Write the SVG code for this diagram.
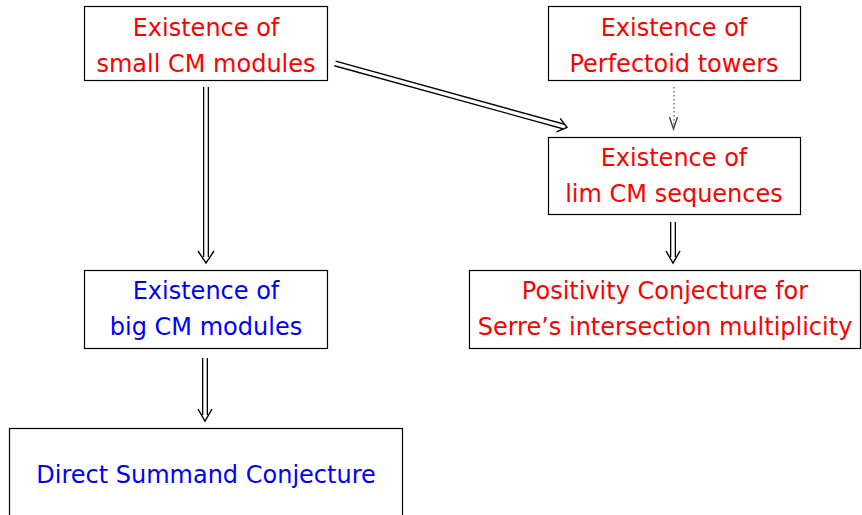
<svg xmlns="http://www.w3.org/2000/svg" width="862" height="515" viewBox="0 0 862 515">
<style>
.box{fill:#fff;stroke:#000;stroke-width:1.2}
.t{font-family:"DejaVu Sans","Liberation Sans",sans-serif;font-size:24px;text-anchor:middle}
.red{fill:#ff0000}
.blue{fill:#0000ff}
.outer{stroke:#000;stroke-width:6;fill:none}
.inner{stroke:#fff;stroke-width:3.4;fill:none}
.head{stroke:#000;stroke-width:1.4;fill:none;stroke-linejoin:miter}
.dot{stroke:#555;stroke-width:1.2;stroke-dasharray:1.5 2.5;fill:none}
</style>
<rect width="862" height="515" fill="#fff"/>
<g id="connectors">
  <g id="c1">
    <line class="outer" x1="206" y1="87" x2="206" y2="257"/>
    <line class="inner" x1="206" y1="86" x2="206" y2="259"/>
    <path class="head" d="M198,251 L206,263 L214,251"/>
  </g>
  <g id="c2">
    <line class="outer" x1="335" y1="63.5" x2="563.6" y2="126.5"/>
    <line class="inner" x1="334" y1="63.2" x2="565" y2="126.9"/>
    <path class="head" d="M556.4,131.8 L567,127.5 L560.2,118.4"/>
  </g>
  <g id="c3">
    <line class="dot" x1="674" y1="87" x2="674" y2="126"/>
    <path class="head" d="M669.5,117 L673.5,129 L677.5,117" style="stroke:#444"/>
  </g>
  <g id="c4">
    <line class="outer" x1="673" y1="222" x2="673" y2="257"/>
    <line class="inner" x1="673" y1="221" x2="673" y2="259"/>
    <path class="head" d="M666,251 L673,263 L680,251"/>
  </g>
  <g id="c5">
    <line class="outer" x1="205" y1="358" x2="205" y2="415"/>
    <line class="inner" x1="205" y1="357" x2="205" y2="417"/>
    <path class="head" d="M198,409 L205,421 L212,409"/>
  </g>
</g>
<g id="n1">
  <rect class="box" x="84.5" y="6.5" width="243" height="74"/>
  <text class="t red" x="206" y="36">Existence of</text>
  <text class="t red" x="206" y="72">small CM modules</text>
</g>
<g id="n2">
  <rect class="box" x="548.5" y="6.5" width="252" height="74"/>
  <text class="t red" x="674" y="36">Existence of</text>
  <text class="t red" x="674" y="72">Perfectoid towers</text>
</g>
<g id="n3">
  <rect class="box" x="548.5" y="137.5" width="252" height="77"/>
  <text class="t red" x="674" y="166">Existence of</text>
  <text class="t red" x="674" y="202">lim CM sequences</text>
</g>
<g id="n4">
  <rect class="box" x="84.5" y="270.5" width="243" height="78"/>
  <text class="t blue" x="206" y="299">Existence of</text>
  <text class="t blue" x="206" y="335">big CM modules</text>
</g>
<g id="n5">
  <rect class="box" x="469.5" y="270.5" width="391" height="78"/>
  <text class="t red" x="665" y="299">Positivity Conjecture for</text>
  <text class="t red" x="665" y="335">Serre’s intersection multiplicity</text>
</g>
<g id="n6">
  <rect class="box" x="9.5" y="428.5" width="393" height="90"/>
  <text class="t blue" x="206" y="483">Direct Summand Conjecture</text>
</g>
</svg>
